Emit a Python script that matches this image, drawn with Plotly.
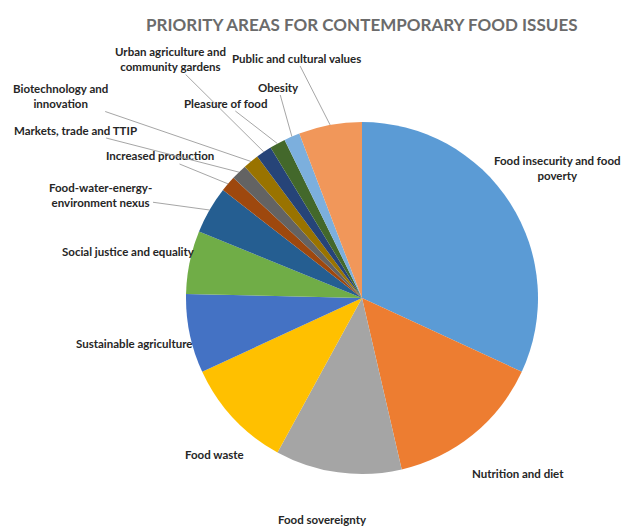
import math
import plotly.graph_objects as go

categories = [
    "Food insecurity and food poverty", "Nutrition and diet", "Food sovereignty",
    "Food waste", "Sustainable agriculture", "Social justice and equality",
    "Food-water-energy-environment nexus", "Increased production",
    "Markets, trade and TTIP", "Biotechnology and innovation",
    "Urban agriculture and community gardens", "Pleasure of food", "Obesity",
    "Public and cultural values",
]
values = [22, 10, 8, 7, 5, 4, 3, 1, 1, 1, 1, 1, 1, 4]
colors = ["#5B9BD5", "#ED7D31", "#A5A5A5", "#FFC000", "#4472C4", "#70AD47",
          "#255E91", "#9E480E", "#636363", "#997300", "#264478", "#43682B",
          "#7CAFDD", "#F1975A"]
label_texts = [
    "Food insecurity and food<br>poverty", "Nutrition and diet", "Food sovereignty",
    "Food waste", "Sustainable agriculture", "Social justice and equality",
    "Food-water-energy-<br>environment nexus", "Increased production",
    "Markets, trade and TTIP", "Biotechnology and<br>innovation",
    "Urban agriculture and<br>community gardens", "Pleasure of food", "Obesity",
    "Public and cultural values",
]
# label centre positions in reference-page pixels (x, y from top)
label_pos = [(557, 168), (518, 473), (322, 519), (214, 454), (134, 343),
             (128, 251), (100, 195), (160, 156), (75, 130), (60, 96),
             (170, 59), (225, 103), (278, 87), (296, 58)]
leader = [False, False, False, False, False, False, True, True, True, True,
          True, True, True, True]

OFF = 8  # page body margin
W, H = 633 - OFF, 527 - OFF
CX, CY, R = 362 - OFF, 298 - OFF, 176
FONT = "Lato, Liberation Sans, sans-serif"

fig = go.Figure(go.Pie(
    labels=categories, values=values, sort=False, direction="clockwise",
    rotation=0, textinfo="none", hoverinfo="label+value",
    marker=dict(colors=colors, line=dict(width=0)),
    domain=dict(x=[(CX - R) / W, (CX + R) / W],
                y=[(H - CY - R) / H, (H - CY + R) / H]),
    showlegend=False,
))

total = sum(values)
cum = 0
annotations = []
for v, txt, (lx, ly), ld in zip(values, label_texts, label_pos, leader):
    lx, ly = lx - OFF, ly - OFF
    mid = 2 * math.pi * (cum + v / 2) / total
    cum += v
    ann = dict(text="<b>" + txt + "</b>", xref="paper", yref="paper",
               align="center",
               font=dict(family=FONT, size=11.5, color="#262626"))
    if ld:
        tx = CX + R * math.sin(mid)
        ty = CY - R * math.cos(mid)
        ann.update(x=tx / W, y=1 - ty / H, showarrow=True, arrowhead=0,
                   arrowwidth=1, arrowcolor="#A6A6A6",
                   ax=lx - tx, ay=ly - ty)
    else:
        ann.update(x=lx / W, y=1 - ly / H, showarrow=False,
                   xanchor="center", yanchor="middle")
    annotations.append(ann)

annotations.append(dict(
    text="<b>PRIORITY AREAS FOR CONTEMPORARY FOOD ISSUES</b>", xref="paper",
    yref="paper", x=(362 - OFF) / W, y=1 - (25 - OFF) / H, showarrow=False,
    xanchor="center", yanchor="middle",
    font=dict(family=FONT, size=17, color="#6B6B6B")))

fig.update_layout(width=W, height=H, margin=dict(l=0, r=0, t=0, b=0),
                  paper_bgcolor="white", plot_bgcolor="white",
                  annotations=annotations)
fig.write_html("out.html")
